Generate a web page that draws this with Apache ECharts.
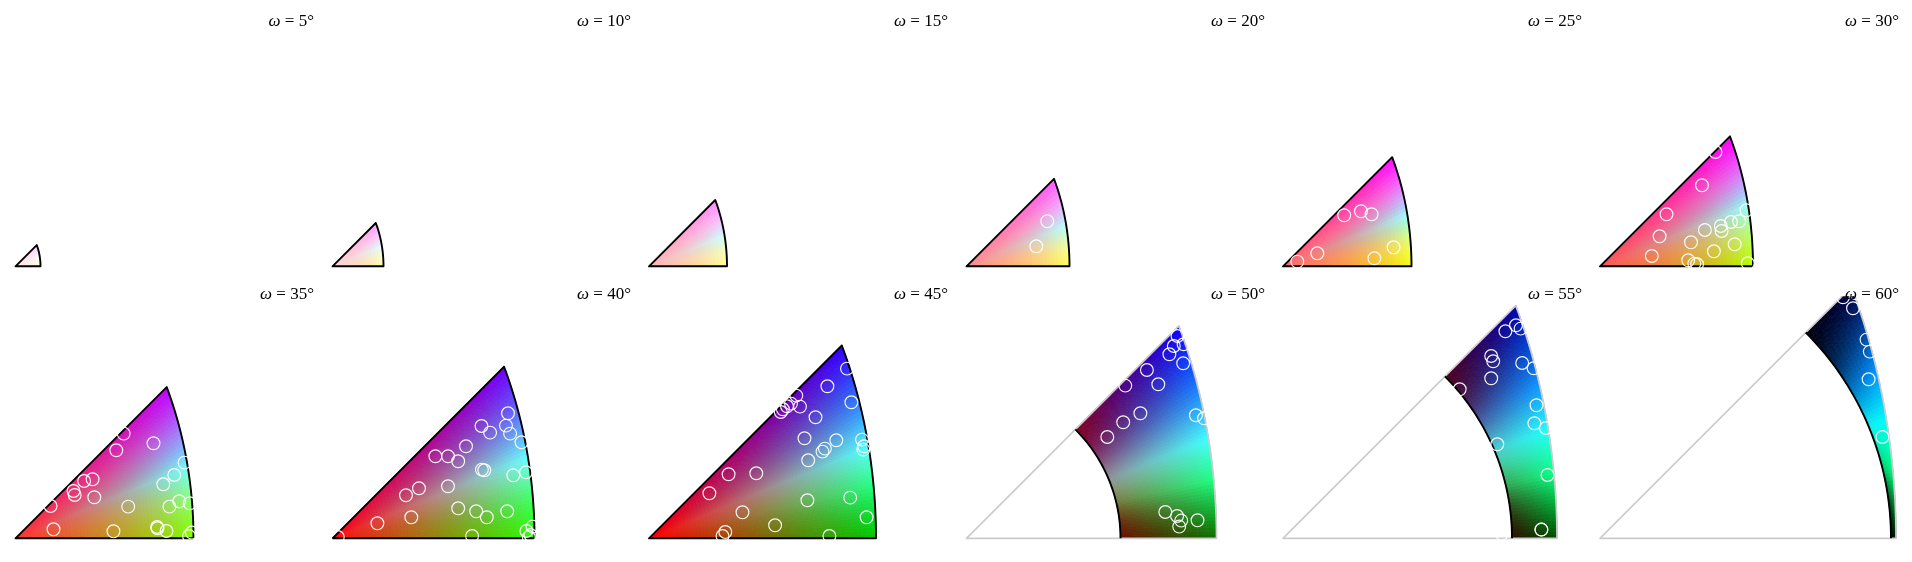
<!DOCTYPE html>
<html>
<head>
<meta charset="utf-8">
<style>html,body{margin:0;padding:0;background:#fff}#c{width:1912px;height:562px}</style>
<script src="https://cdn.jsdelivr.net/npm/echarts@6/dist/echarts.min.js"></script>
</head>
<body>
<div id="c"></div>
<script>
var omegas = [5,10,15,20,25,30,35,40,45,50,55,60];
var outerRadius = [25,51,78,103,128.5,153,178,202,227,250,274,296];
var innerRadius = [0,0,0,0,0,0,0,0,0,154,229,291];

var pts5 = [];
var pts10 = [];
var pts15 = [];
var pts20 = [[80.8,45],[69.8,20]];
var pts25 = [[14.3,4.7],[34.3,13],[61.2,51],[78,55],[88.6,52],[91.4,8],[110.6,19]];
var pts30 = [[115.5,114.3],[102,81],[66.5,52],[59.6,30],[51.8,10.3],[91,24],[104.9,36.3],[113.9,15],[88.2,6],[94.3,2.7],[97.1,2],[120.8,40.3],[121.6,35.3],[131,44.3],[139.2,45],[146.5,56],[134.7,22],[147.8,3]];
var pts35 = [[108.2,104.7],[100.8,88],[138,95],[169,75.7],[158.8,63.3],[147.8,54],[77.1,59],[68.6,57.3],[58,47.3],[59.2,43.3],[78.8,41],[35.1,32.3],[112.7,31.7],[153.9,31.7],[163.7,37],[174.3,35],[38,9],[98,7],[141.6,11.3],[142,10],[151,7.3],[176.3,5.7],[173.5,2.3]];
var pts40 = [[175.5,125],[149,112.3],[157.6,105.7],[173.5,112.7],[177.6,104.7],[189,96],[133.5,92],[102.9,82],[115.5,82],[125.7,77],[149.4,68.7],[151.8,68],[180.8,63],[193.5,66],[115.5,52],[86.5,50],[73.5,43],[125.7,30],[143.7,27],[154.3,21],[174.7,27],[78.8,21],[44.9,15],[139.6,2.3],[5.3,1.3],[193.9,7.3],[200,11.7],[198,3.3],[196.3,1.3]];
var pts45 = [[198,169.7],[178.4,152],[202.4,136],[147.3,142.7],[151,131.7],[142,134.7],[138,132],[133.9,129],[131.8,126.3],[166.5,121],[155.5,100],[187.3,98],[175.9,89.7],[173.5,86.7],[213,98.7],[215,92],[214.3,88.7],[159.2,78],[79.6,64],[107.3,65],[60.4,45],[158.4,38],[201.2,40.7],[217.6,21],[93.5,26],[126.1,13],[76.3,6.3],[73.5,2.3],[180.4,2.3]];
var pts50 = [[211,202.3],[207.3,192.3],[217.1,194],[202.9,184],[216.7,175],[180.4,168.3],[191.8,154],[158.8,152.7],[173.9,125],[156.7,116],[140.8,101.3],[229.4,123],[237.6,120],[198.8,26.3],[210.6,22.3],[214.7,17.7],[212.7,11.7],[231,18]];
var pts55 = [[233,213],[237.6,209.7],[222.4,207],[208.2,182.3],[210.2,177],[208.2,160],[239.2,175.3],[250.6,170],[176.7,149],[253.5,133],[251.4,115],[262.9,110.3],[214.3,94],[264.5,63.3],[258.4,8.7],[258.4,8.7],[218.8,4.5]];
var pts60 = [[243,241],[253,230],[256,245],[266.5,198.7],[269.8,186.7],[268.6,159],[282.4,101.3]];
var panelPoints = [pts5,pts10,pts15,pts20,pts25,pts30,pts35,pts40,pts45,pts50,pts55,pts60];

/* page layout */
var originX = [15.5,332.5,649,966.5,1283,1600];
var labelRight = [314,631,948,1265,1582,1899];
var baseline = [266.3,538.3];
var labelY = [13,286];
var clipTop = 242, pad = 2, plotW = 305;

/* colour model of the section shading, one entry per omega */
var washIn  = [.92,.84,.72,.55,.43,.35,.2,.05,0,0,0,0];
var washOut = [.8,.62,.55,.35,.05,0,0,0,0,0,0,0];
var redLossLow  = [.02,.02,.02,.02,.05,.3,.5,.85,1,.95,1,1.3];
var redLossHigh = [0,0,0,0,0,0,.25,.57,.8,.95,1,1.3];
var redMid = [.85,.7,.6,.6,.62,.6,.45,.4,.3,.24,.12,0];
var greenFloor = [1,1,1,1,1,1,1,1,.78,.43,.3,.1];
var blueFloor  = [1,1,1,1,1,1,1,1,1,1,.67,.25];

function lerp(a,b,t){return a+(b-a)*t;}
function arcFactor(phi){
  var theta = Math.atan(1/Math.cos(phi));
  return Math.sin(theta/2)/Math.sin(Math.PI/8);
}
function shade(i,s,v,sIn){
  var g = Math.exp(-Math.pow((v-.5)/.2,2));
  var gw = Math.exp(-Math.pow((v-.5)/.4,2));
  var k = lerp(lerp(redLossLow[i],redLossHigh[i],v),1-redMid[i],g);
  var R = Math.max(0,1-s*k);
  var sr = sIn>0 ? Math.max(0,(s-sIn)/(1-sIn)) : s;
  var sg = lerp(sr,s,gw);
  var gv = v<.5 ? lerp(greenFloor[i],1,Math.min(1,v/.3)) : Math.pow(2*(1-v),1.1);
  var bv = v>.5 ? lerp(blueFloor[i],1,Math.min(1,(1-v)/.3)) : Math.pow(2*v,1.3);
  var G = sg*gv, B = sg*bv;
  var W = lerp(washIn[i],washOut[i],s);
  function f(c){return Math.round(255*Math.min(1,c+W*(1-c)));}
  return 'rgb('+f(R)+','+f(G)+','+f(B)+')';
}

function wedgeRender(i){
  return function(params,api){
    var R = outerRadius[i], rIn = innerRadius[i];
    var nv = Math.max(6,Math.round(R*.87/4)), ns = Math.max(5,Math.round((R*1.1-rIn)/4));
    var kids = [];
    function P(r,phi){return api.coord([r*Math.cos(phi),r*Math.sin(phi)]);}
    function rad(phi,t){
      var ra = R*arcFactor(phi);
      return rIn + (ra-rIn)*t;
    }
    var A = Math.PI/4;
    for(var a=0;a<nv;a++){
      var p0=A*a/nv,p1=A*(a+1)/nv,pm=(p0+p1)/2;
      for(var b=0;b<ns;b++){
        var t0=b/ns,t1=(b+1)/ns,tm=(t0+t1)/2;
        var ra=R*arcFactor(pm);
        var c=shade(i,rad(pm,tm)/ra,a/nv+.5/nv,rIn/ra);
        kids.push({type:'polygon',silent:true,
          shape:{points:[P(rad(p0,t0),p0),P(rad(p1,t0),p1),P(rad(p1,t1),p1),P(rad(p0,t1),p0)]},
          style:{fill:c,stroke:c,lineWidth:.8}});
      }
    }
    var outer=[];
    var steps=40;
    for(var q=0;q<=steps;q++){var ph=A*q/steps;outer.push(P(R*arcFactor(ph),ph));}
    var o=api.coord([0,0]);
    var outline=[o].concat(outer);
    kids.push({type:'polygon',silent:true,shape:{points:outline},
      style:{fill:'none',stroke:rIn>0?'#cccccc':'#000000',lineWidth:rIn>0?1.7:1.9,lineJoin:'round'}});
    if(rIn>0){
      var inner=[];
      for(var w=0;w<=steps;w++){inner.push(P(rIn,A*w/steps));}
      kids.push({type:'polyline',silent:true,shape:{points:inner},
        style:{fill:'none',stroke:'#000000',lineWidth:1.9}});
    }
    return {type:'group',children:kids};
  };
}
function circleRender(params,api){
  var c=api.coord([api.value(0),api.value(1)]);
  return {type:'circle',shape:{cx:c[0],cy:c[1],r:6.4},
    style:{fill:'none',stroke:'#ffffff',lineWidth:1.15,opacity:.95}};
}

var grids=[],xAxes=[],yAxes=[],series=[],titles=[];
omegas.forEach(function(w,i){
  var row=i<6?0:1,col=i%6;
  grids.push({left:originX[col]-pad,top:baseline[row]-clipTop,width:plotW,height:clipTop+pad,containLabel:false});
  xAxes.push({type:'value',gridIndex:i,min:-pad,max:plotW-pad,show:false});
  yAxes.push({type:'value',gridIndex:i,min:-pad,max:clipTop,show:false});
  series.push({type:'custom',name:'section '+w,xAxisIndex:i,yAxisIndex:i,clip:true,silent:true,
    coordinateSystem:'cartesian2d',data:[[w]],encode:{x:0},renderItem:wedgeRender(i),z:2});
  series.push({type:'custom',name:'boundaries '+w,xAxisIndex:i,yAxisIndex:i,clip:true,silent:true,
    coordinateSystem:'cartesian2d',data:panelPoints[i],encode:{x:0,y:1},renderItem:circleRender,z:3});
  titles.push({text:'{w|\u03c9} = '+w+'\u00b0',left:labelRight[col],top:labelY[row],textAlign:'right',padding:0,z:5,
    textStyle:{fontFamily:'"Liberation Serif"',fontSize:17,fontWeight:'normal',color:'#000',
      rich:{w:{fontFamily:'"Liberation Serif"',fontStyle:'italic',fontSize:17,color:'#000'}}}});
});

var chart=echarts.init(document.getElementById('c'),null,{renderer:'canvas'});
chart.setOption({animation:false,backgroundColor:'#fff',title:titles,grid:grids,xAxis:xAxes,yAxis:yAxes,tooltip:{show:false},series:series});
</script>
</body>
</html>
